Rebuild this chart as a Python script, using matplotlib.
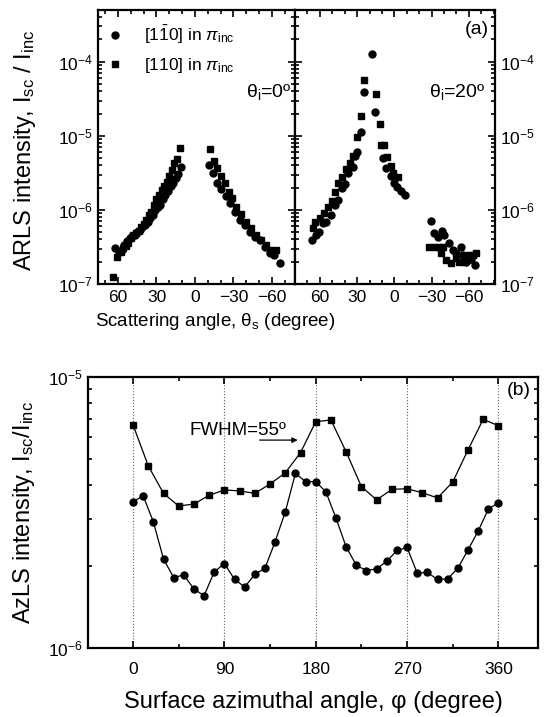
import matplotlib
matplotlib.use('Agg')
import matplotlib.pyplot as plt
from matplotlib.ticker import MultipleLocator, LogLocator, FixedLocator, NullFormatter, FuncFormatter

plt.rcParams['font.family'] = ['Liberation Sans', 'DejaVu Sans']
plt.rcParams['mathtext.fontset'] = 'custom'
plt.rcParams['mathtext.rm'] = 'Liberation Sans'
plt.rcParams['mathtext.it'] = 'Liberation Sans:italic'
plt.rcParams['mathtext.bf'] = 'Liberation Sans:bold'

# ---------------- Panel (a): theta_i = 0 ----------------
a0_circ_theta = [62, 59, 57, 55, 53, 51, 49, 47, 45, 43, 41, 39, 37, 35, 33, 31, 29, 27, 25, 23, 21, 19, 17, 15, 13.5, 11,
                 -11, -14, -17, -20.5, -24, -27, -31, -35, -38.7, -42.6, -46.5, -50.4, -54.3, -58.2, -62, -66.5]
a0_circ_val = [3.1e-7, 2.7e-7, 2.9e-7, 3.4e-7, 3.8e-7, 4.2e-7, 4.4e-7, 4.6e-7, 5.0e-7, 5.4e-7, 5.9e-7, 6.3e-7, 6.9e-7,
               7.8e-7, 8.5e-7, 1.0e-6, 1.1e-6, 1.17e-6, 1.4e-6, 1.6e-6, 1.82e-6, 2.1e-6, 2.3e-6, 2.7e-6, 3.1e-6, 3.85e-6,
               4.05e-6, 3.13e-6, 2.34e-6, 1.9e-6, 1.55e-6, 1.23e-6, 9.5e-7, 7.3e-7, 6.3e-7, 5.1e-7, 4.36e-7, 3.93e-7,
               3.19e-7, 2.6e-7, 2.47e-7, 1.94e-7]
a0_sq_theta = [64, 61, 58, 56, 54, 52, 50, 48, 46, 44, 42, 40, 38, 36, 34, 32, 30, 28, 26, 24, 22, 20, 18, 16, 14, 11.5,
               -11.4, -14.6, -17.1, -20.5, -23.6, -26.5, -29.1, -32.2, -36.1, -40, -43.9, -47.8, -51.7, -55.6, -58.7, -62.9]
a0_sq_val = [1.25e-7, 2.3e-7, 2.7e-7, 3.1e-7, 3.3e-7, 3.6e-7, 4.2e-7, 4.6e-7, 4.9e-7, 5.2e-7, 5.8e-7, 6.5e-7, 7.4e-7,
             8.5e-7, 9.5e-7, 1.15e-6, 1.4e-6, 1.6e-6, 1.86e-6, 2.1e-6, 2.4e-6, 2.9e-6, 3.5e-6, 4.3e-6, 4.9e-6, 6.8e-6,
             6.6e-6, 4.64e-6, 3.66e-6, 2.88e-6, 2.3e-6, 1.77e-6, 1.44e-6, 1.11e-6, 8.8e-7, 6.95e-7, 5.65e-7, 4.6e-7,
             3.93e-7, 3.36e-7, 2.88e-7, 2.88e-7]

# ---------------- Panel (a): theta_i = 20 ----------------
a20_circ_theta = [66.4, 62.9, 61, 57.6, 54.9, 51.4, 48.2, 45.5, 42.3, 39.6, 37, 33.5, 32, 30, 27, 24.1, 17.9, 15.5,
                  9.4, 6.7, 2.7, 0.6, -2.4, -5.4, -8.8,
                  -29.5, -32.1, -34.8, -38.3, -39.6, -44.2, -46.8, -49.5, -53.6, -54.9, -57.5, -58.9, -62, -65.1]
a20_circ_val = [3.9e-7, 4.6e-7, 5.1e-7, 6.6e-7, 6.95e-7, 8.6e-7, 1.17e-6, 1.36e-6, 1.96e-6, 2.24e-6, 3.13e-6, 3.78e-6,
                5.4e-6, 6.1e-6, 1.11e-5, 3.9e-5, 1.28e-4, 2.07e-5,
                5.0e-6, 3.66e-6, 2.88e-6, 2.34e-6, 2.05e-6, 1.8e-6, 1.59e-6,
                7.1e-7, 4.84e-7, 4.36e-7, 5.25e-7, 4.6e-7, 3.55e-7, 2.88e-7, 2.6e-7, 3.19e-7, 2.47e-7, 2.0e-7, 2.11e-7,
                2.2e-7, 1.8e-7]
a20_sq_theta = [65.6, 63.7, 60.2, 56.8, 53.5, 50.3, 48.2, 45.5, 42, 38.8, 36.1, 33, 30, 26.8, 24.1, 15, 11.8, 10.5, 8.5,
                5.9, 2.7, 1.4, -2.7,
                -28.1, -32.1, -36.1, -37.5, -39.4, -41.5, -45.5, -49.5, -51.7, -56.2, -59.7, -62.9, -66.1]
a20_sq_val = [5.65e-7, 6.95e-7, 7.7e-7, 9.0e-7, 1.09e-6, 1.34e-6, 1.77e-6, 2.3e-6, 2.82e-6, 3.55e-6, 4.36e-6, 5.3e-6,
              9.6e-6, 1.88e-5, 5.7e-5, 3.73e-5, 1.44e-5, 7.55e-6, 7.55e-6, 5.25e-6, 3.93e-6, 3.13e-6, 2.8e-6,
              3.19e-7, 3.19e-7, 3.13e-7, 2.65e-7, 3.19e-7, 2.11e-7, 1.9e-7, 2.22e-7, 2.0e-7, 2.0e-7, 2.47e-7, 2.47e-7,
              2.65e-7]

# ---------------- Panel (b) ----------------
b_sq_phi = [0, 15, 30, 45, 60, 75, 90, 105, 120, 135, 150, 165, 180, 195, 210, 225, 240, 255, 270, 285, 300, 315,
            330, 345, 360]
b_sq_val = [6.65e-6, 4.70e-6, 3.72e-6, 3.34e-6, 3.40e-6, 3.66e-6, 3.83e-6, 3.80e-6, 3.72e-6, 4.03e-6, 4.43e-6,
            5.26e-6, 6.84e-6, 6.94e-6, 5.29e-6, 3.94e-6, 3.52e-6, 3.85e-6, 3.87e-6, 3.74e-6, 3.58e-6, 4.10e-6,
            5.38e-6, 6.98e-6, 6.61e-6]
b_circ_phi = [0, 10, 20, 30, 40, 50, 60, 70, 80, 90, 100, 110, 120, 130, 140, 150, 160, 170, 180, 190, 200, 210,
              220, 230, 240, 250, 260, 270, 280, 290, 300, 310, 320, 330, 340, 350, 360]
b_circ_val = [3.47e-6, 3.64e-6, 2.92e-6, 2.13e-6, 1.82e-6, 1.86e-6, 1.65e-6, 1.56e-6, 1.91e-6, 2.05e-6, 1.79e-6,
              1.68e-6, 1.87e-6, 1.97e-6, 2.47e-6, 3.18e-6, 4.41e-6, 4.11e-6, 4.11e-6, 3.77e-6, 3.01e-6, 2.36e-6,
              2.02e-6, 1.93e-6, 1.96e-6, 2.09e-6, 2.29e-6, 2.35e-6, 1.89e-6, 1.90e-6, 1.79e-6, 1.80e-6, 1.97e-6,
              2.30e-6, 2.70e-6, 3.25e-6, 3.44e-6]

a_xticks = [60, 30, 0, -30, -60]
a_yticks = [1e-7, 1e-6, 1e-5, 1e-4]
b_xticks = [0, 90, 180, 270, 360]
b_yticks = [1e-6, 1e-5]

legend_labels = [r'[1$\bar{\rm 1}$0] in $\pi_{\rm inc}$', r'[110] in $\pi_{\rm inc}$']

W, H = 547, 717


def rect(x0, y0, x1, y1):
    return [x0 / W, 1 - y1 / H, (x1 - x0) / W, (y1 - y0) / H]


def pow_fmt(v, pos):
    import math
    e = int(round(math.log10(v)))
    return r'10$^{%d}$' % e


fig = plt.figure(figsize=(W / 100, H / 100), dpi=100)
axL = fig.add_axes(rect(98, 10, 295, 284))
axR = fig.add_axes(rect(295, 10, 495, 284))
axB = fig.add_axes(rect(88, 377, 538, 648))

ms = 5
for ax in (axL, axR, axB):
    for s in ax.spines.values():
        s.set_linewidth(1.6)
    ax.set_yscale('log')
    ax.tick_params(which='both', direction='in', top=True, right=True, width=1.2, labelsize=12.5)
    ax.tick_params(which='major', length=5)
    ax.tick_params(which='minor', length=3)

# panel a
axL.plot(a0_circ_theta, a0_circ_val, 'o', color='black', ms=ms, label=legend_labels[0])
axL.plot(a0_sq_theta, a0_sq_val, 's', color='black', ms=ms, label=legend_labels[1])
axR.plot(a20_circ_theta, a20_circ_val, 'o', color='black', ms=ms)
axR.plot(a20_sq_theta, a20_sq_val, 's', color='black', ms=ms)

axL.set_xlim(75.6, -78)
axR.set_xlim(80, -81)
for ax in (axL, axR):
    ax.set_ylim(1e-7, 5e-4)
    ax.xaxis.set_major_locator(FixedLocator(a_xticks))
    ax.xaxis.set_minor_locator(MultipleLocator(10))
    ax.yaxis.set_major_locator(FixedLocator(a_yticks))
    ax.yaxis.set_major_formatter(FuncFormatter(pow_fmt))
    ax.yaxis.set_minor_locator(LogLocator(base=10, subs=range(2, 10), numticks=20))
    ax.yaxis.set_minor_formatter(NullFormatter())
    ax.tick_params(axis='x', pad=4)
axR.tick_params(axis='y', labelleft=False, labelright=True)

leg = axL.legend(loc='upper left', bbox_to_anchor=(-0.03, 1.0), frameon=False, fontsize=12.5, handlelength=1.0,
                 handletextpad=1.2, labelspacing=0.55, borderaxespad=0.4)
axL.text(0.985, 0.70, r'θ$_{\rm i}$=0º', transform=axL.transAxes, ha='right', va='center', fontsize=14)
axR.text(0.955, 0.70, r'θ$_{\rm i}$=20º', transform=axR.transAxes, ha='right', va='center', fontsize=14)
axR.text(0.97, 0.93, '(a)', transform=axR.transAxes, ha='right', va='center', fontsize=14)

fig.text(215 / W, 1 - 321 / H, r'Scattering angle, θ$_{\rm s}$ (degree)', ha='center', va='center', fontsize=13.5)
fig.text(25 / W, 1 - 150 / H, r'ARLS intensity, I$_{\rm sc}$ / I$_{\rm inc}$', ha='center', va='center',
         rotation=90, fontsize=17)

# panel b
axB.plot(b_sq_phi, b_sq_val, 's-', color='black', ms=ms, lw=0.9)
axB.plot(b_circ_phi, b_circ_val, 'o-', color='black', ms=ms, lw=0.9)
axB.set_xlim(-44.4, 399)
axB.set_ylim(1e-6, 1e-5)
axB.xaxis.set_major_locator(FixedLocator(b_xticks))
axB.xaxis.set_minor_locator(MultipleLocator(45))
axB.yaxis.set_major_locator(FixedLocator(b_yticks))
axB.yaxis.set_major_formatter(FuncFormatter(pow_fmt))
axB.yaxis.set_minor_locator(LogLocator(base=10, subs=range(2, 10), numticks=20))
axB.yaxis.set_minor_formatter(NullFormatter())
axB.tick_params(axis='x', pad=10)
axB.grid(axis='x', which='major', linestyle=':', color='#666666', linewidth=0.8)
axB.text(0.985, 0.95, '(b)', transform=axB.transAxes, ha='right', va='center', fontsize=14)
axB.text(56, 6.1e-6, 'FWHM=55º', ha='left', va='baseline', fontsize=13.5)
axB.annotate('', xy=(165, 5.85e-6), xytext=(122, 5.85e-6),
             arrowprops=dict(arrowstyle='-|>', color='black', lw=0.9, mutation_scale=8))
axB.set_xlabel('Surface azimuthal angle, φ (degree)', fontsize=17, labelpad=10)
axB.set_ylabel(r'AzLS intensity, I$_{\rm sc}$/I$_{\rm inc}$', fontsize=17, labelpad=8)

fig.savefig('out.png', dpi=100)
